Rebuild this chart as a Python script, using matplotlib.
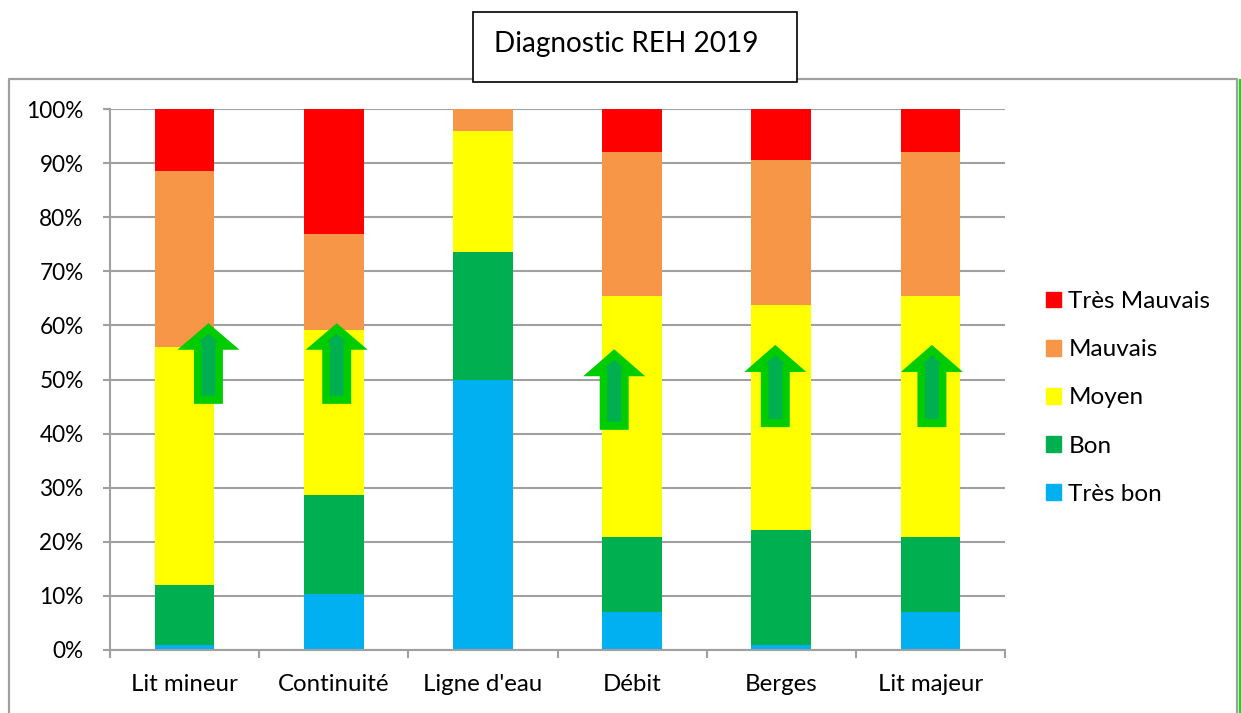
import matplotlib
matplotlib.use("Agg")
import matplotlib.pyplot as plt
from matplotlib.patches import Polygon, Rectangle, Patch
from matplotlib.lines import Line2D
import numpy as np

plt.rcParams["font.family"] = ["Lato", "DejaVu Sans"]

# ── Data (percent of each compartment) ─────────────────────────────────────────
categories   = ["Lit mineur", "Continuité", "Ligne d'eau", "Débit", "Berges", "Lit majeur"]
tres_bon     = [0.9, 10.4, 50.0, 7.0, 0.9, 7.0]
bon          = [11.1, 18.3, 23.6, 13.9, 21.3, 13.9]
moyen        = [44.0, 30.4, 22.3, 44.5, 41.6, 44.5]
mauvais      = [32.5, 17.8, 4.1, 26.6, 26.8, 26.6]
tres_mauvais = [11.5, 23.1, 0.0, 8.0, 9.4, 8.0]

series_names  = ["Très bon", "Bon", "Moyen", "Mauvais", "Très Mauvais"]
series_values = [tres_bon, bon, moyen, mauvais, tres_mauvais]
series_colors = ["#00B0F0", "#00B050", "#FFFF00", "#F79646", "#FF0000"]

# arrows: (category index, x offset, bottom %, head base %, tip %)
arrows = [
    (0, 0.16, 45.5, 55.5, 60.4),
    (1, 0.02, 45.5, 55.5, 60.4),
    (3, -0.12, 40.7, 50.6, 55.6),
    (4, -0.04, 41.2, 51.4, 56.4),
    (5, 0.01, 41.2, 51.4, 56.4),
]

W, H = 1241, 713
fig = plt.figure(figsize=(W / 100, H / 100), dpi=100)

# ── Outer chart frame + title box ──────────────────────────────────────────────
def px(x, y):
    return x / W, 1 - y / H

fx, fy = px(9, 79)
frame = Line2D([fx, fx, px(1237, 0)[0], px(1237, 0)[0]],
               [px(0, 720)[1], fy, fy, px(0, 720)[1]],
               transform=fig.transFigure, color="#A0A0A0", lw=1.6)
fig.add_artist(frame)
fig.add_artist(Line2D([px(1240, 0)[0]] * 2, [px(0, 80)[1], px(0, 720)[1]],
                      transform=fig.transFigure, color="#11DD11", lw=2.4))

x0, y1 = px(473, 12)
x1, y0 = px(797, 82)
fig.add_artist(Rectangle((x0, y0), x1 - x0, y1 - y0, transform=fig.transFigure,
                         facecolor="white", edgecolor="black", lw=1.2, zorder=5))
fig.text(*px(626, 44), "Diagnostic REH 2019", ha="center", va="center",
         fontsize=20.2, zorder=6)

# ── Axes ───────────────────────────────────────────────────────────────────────
ax = fig.add_axes([110 / W, 63 / H, 895 / W, 541 / H])
x = np.arange(len(categories))
bottom = np.zeros(len(categories))
for name, vals, col in zip(series_names, series_values, series_colors):
    ax.bar(x, vals, bottom=bottom, width=0.40, color=col, label=name, zorder=2)
    bottom += np.array(vals)

ax.set_xlim(-0.5, len(categories) - 0.5)
ax.set_ylim(0, 100)
ax.set_yticks(np.arange(0, 101, 10))
ax.set_yticklabels([f"{v}%" for v in range(0, 101, 10)])
ax.yaxis.grid(True, color="#A0A0A0", lw=1.5, zorder=0)
ax.set_axisbelow(True)

ax.set_xticks(np.arange(-0.5, len(categories), 1.0))
ax.set_xticklabels([])
ax.set_xticks(x, minor=True)
ax.set_xticklabels(categories, minor=True)
ax.tick_params(axis="x", which="major", length=6, width=1.5, color="#A0A0A0")
ax.tick_params(axis="x", which="minor", length=0, pad=17, labelsize=17.3)
ax.tick_params(axis="y", length=5, width=1.5, color="#A0A0A0", pad=14, labelsize=16.3)

for s in ["top", "right"]:
    ax.spines[s].set_visible(False)
for s in ["left", "bottom"]:
    ax.spines[s].set_color("#A0A0A0")
    ax.spines[s].set_linewidth(1.5)

# ── Green "improvement" arrows ─────────────────────────────────────────────────
hw, sw = 0.208, 0.097          # head / shaft half widths (data units)
ihw, isw = 0.066, 0.047
for ci, dx, yb, yh, yt in arrows:
    cx = ci + dx
    outer = [(cx - sw, yb), (cx - sw, yh), (cx - hw, yh), (cx, yt),
             (cx + hw, yh), (cx + sw, yh), (cx + sw, yb)]
    ax.add_patch(Polygon(outer, closed=True, facecolor="#00CC00", edgecolor="none", zorder=4))
    inner = [(cx - isw, yb + 1.5), (cx - isw, yh + 1.4), (cx - ihw, yh + 1.4),
             (cx, yt - 1.9), (cx + ihw, yh + 1.4), (cx + isw, yh + 1.4),
             (cx + isw, yb + 1.5)]
    ax.add_patch(Polygon(inner, closed=True, facecolor="#00B050", edgecolor="none", zorder=5))

# ── Legend ─────────────────────────────────────────────────────────────────────
handles = [Patch(color=c) for c in series_colors][::-1]
labels = series_names[::-1]
fig.legend(handles, labels, loc="upper left", bbox_to_anchor=px(1046, 291),
           frameon=False, fontsize=17.5, handlelength=0.62, handleheight=0.62,
           handletextpad=0.3, labelspacing=1.12, borderpad=0, borderaxespad=0)

fig.savefig("out.png", dpi=100)
